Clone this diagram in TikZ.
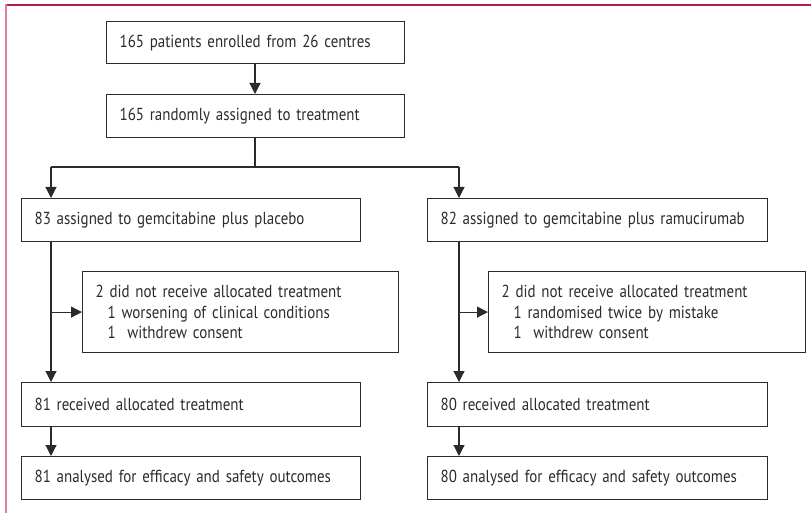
\documentclass[tikz,border=0pt]{standalone}
\usepackage{fontspec}
\setmainfont{PT Sans}[FakeStretch=0.86,WordSpace=0.8]
\usetikzlibrary{arrows.meta}
\definecolor{ink}{HTML}{2B2B2B}
\definecolor{topred}{HTML}{B01E45}
\definecolor{sidepink}{HTML}{E07E9B}
\tikzset{
  box/.style={draw=ink, line width=1.2pt, inner xsep=13pt, inner ysep=0pt,
    anchor=north west, align=left, text=ink,
    font=\fontsize{17.4}{20.5}\selectfont},
  arr/.style={draw=ink, line width=1.2pt, -{Triangle[length=11pt,width=11pt]}},
  ln/.style={draw=ink, line width=1.2pt}
}
\begin{document}
\begin{tikzpicture}[x=1pt,y=-1pt]
\useasboundingbox (0,0) rectangle (811,513);
\draw[topred, line width=1.2pt] (5,5) -- (811,5);
\draw[sidepink, line width=2.2pt] (6,4.4) -- (6,513);

\node[box, text width=272pt, minimum height=42pt] (b1) at (106,21) {165 patients enrolled from 26 centres};
\node[box, text width=272pt, minimum height=43pt] (b2) at (106,94) {165 randomly assigned to treatment};

\node[box, text width=313pt, minimum height=43pt] (l1) at (21,198) {83 assigned to gemcitabine plus placebo};
\node[box, text width=314pt, minimum height=43pt] (r1) at (427,198) {82 assigned to gemcitabine plus ramucirumab};

\node[box, text width=290pt, minimum height=81pt] (exl) at (82,271) {2 did not receive allocated treatment\\\hspace*{12pt}1 worsening of clinical conditions\\\hspace*{12pt}1\ \ withdrew consent};
\node[box, text width=291pt, minimum height=81pt] (exr) at (488,271) {2 did not receive allocated treatment\\\hspace*{12pt}1 randomised twice by mistake\\\hspace*{12pt}1\ \ withdrew consent};

\node[box, text width=313pt, minimum height=44pt] (l2) at (21,382) {81 received allocated treatment};
\node[box, text width=314pt, minimum height=44pt] (r2) at (427,382) {80 received allocated treatment};
\node[box, text width=313pt, minimum height=43pt] (l3) at (21,456) {81 analysed for efficacy and safety outcomes};
\node[box, text width=314pt, minimum height=43pt] (r3) at (427,456) {80 analysed for efficacy and safety outcomes};

\coordinate (split) at (255,167);
\coordinate (jl) at (51,167);
\coordinate (jr) at (459,167);

\draw[arr] (b1.south -| split) -- (b2.north -| split);
\draw[ln] (b2.south -| split) -- (split);
\draw[ln] (jl) -- (jr);
\draw[arr] (jl) -- (jl |- l1.north);
\draw[arr] (jr) -- (jr |- r1.north);

\draw[arr] (jl |- l1.south) -- (jl |- l2.north);
\draw[arr] (jr |- r1.south) -- (jr |- r2.north);
\draw[arr] (jl |- exl.west) -- (exl.west);
\draw[arr] (jr |- exr.west) -- (exr.west);

\draw[arr] (jl |- l2.south) -- (jl |- l3.north);
\draw[arr] (jr |- r2.south) -- (jr |- r3.north);
\end{tikzpicture}
\end{document}
